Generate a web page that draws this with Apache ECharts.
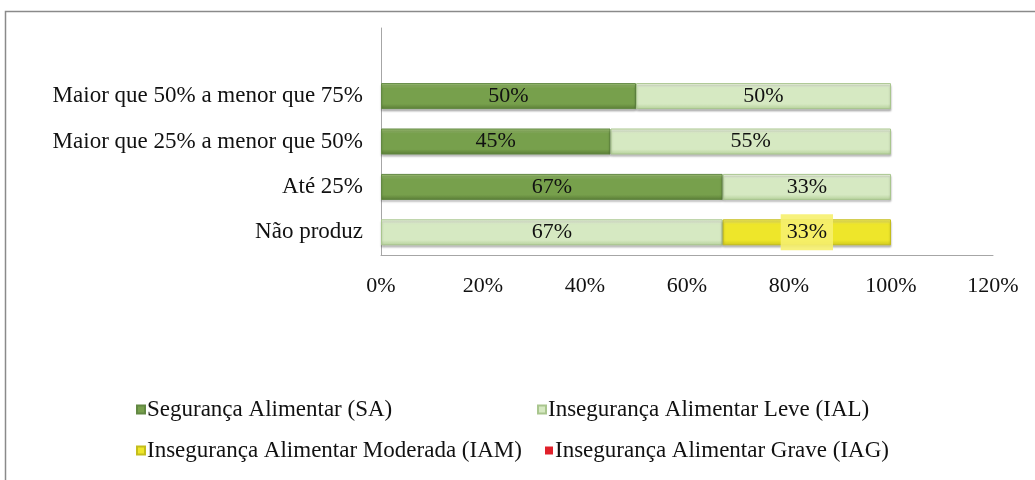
<!DOCTYPE html>
<html>
<head>
<meta charset="utf-8">
<script src="https://cdn.jsdelivr.net/npm/echarts@6/dist/echarts.min.js"></script>
<style>
  html, body { margin: 0; padding: 0; background: #fff; }
  #chart { width: 1035px; height: 480px; }
</style>
</head>
<body>
<div id="chart"></div>
<script>
// categories from bottom to top; top row is an empty slot
const categories = ['Não produz', 'Até 25%', 'Maior que 25% a menor que 50%', 'Maior que 50% a menor que 75%', '']
const sa = [null, 67, 45, 50, null]
const ial = [67, 33, 55, 50, null]
const iam = [33, null, null, null, null]
const iag = [null, null, null, null, null]
const xTicks = [0, 20, 40, 60, 80, 100, 120]

const font = 'Liberation Serif'

function bevel (top, mid, bottom) {
    return new echarts.graphic.LinearGradient(0, 0, 0, 1, [
        { offset: 0, color: top },
        { offset: 0.2, color: mid },
        { offset: 0.8, color: mid },
        { offset: 1, color: bottom }
    ])
}

const barLabel = {
    show: true,
    position: 'inside',
    fontFamily: font,
    fontSize: 22,
    color: '#111',
    formatter: p => p.value + '%'
}

const myChart = echarts.init(document.getElementById('chart'))

const option = {
    animation: false,
    textStyle: { fontFamily: font },
    graphic: [
        {
            type: 'rect',
            shape: { x: 5.5, y: 11.5, width: 1200, height: 600 },
            style: { fill: 'none', stroke: '#8a8a8a', lineWidth: 1.5 }
        }
    ],
    grid: {
        left: 381,
        right: 42,
        top: 28,
        bottom: 225,
        containLabel: false
    },
    xAxis: {
        type: 'value',
        min: 0,
        max: 120,
        interval: 20,
        axisLine: { show: true, lineStyle: { color: '#a6a6a6', width: 1 } },
        axisTick: { show: false },
        splitLine: { show: false },
        axisLabel: {
            margin: 20,
            fontFamily: font,
            fontSize: 22,
            color: '#111',
            formatter: v => xTicks.includes(v) ? v + '%' : ''
        }
    },
    yAxis: {
        type: 'category',
        data: categories,
        axisLine: { show: true, lineStyle: { color: '#a6a6a6', width: 1 } },
        axisTick: { show: false },
        axisLabel: {
            margin: 18,
            fontFamily: font,
            fontSize: 23,
            color: '#111'
        }
    },
    legend: [
        { data: ['Segurança Alimentar (SA)'], left: 136, top: 398 },
        { data: ['Insegurança Alimentar Leve (IAL)'], left: 537, top: 398 },
        { data: ['Insegurança Alimentar Moderada (IAM)'], left: 136, top: 439 },
        { data: ['Insegurança Alimentar Grave (IAG)'], left: 545, top: 439 }
    ].map(l => Object.assign(l, {
        itemWidth: 8,
        itemHeight: 8,
        icon: 'rect',
        padding: 0,
        textStyle: { fontFamily: font, fontSize: 23, color: '#111', padding: [0, 0, 0, -3] }
    })),
    series: [
        {
            name: 'Segurança Alimentar (SA)',
            type: 'bar',
            stack: 'total',
            barWidth: 26,
            data: sa,
            itemStyle: {
                color: bevel('#a5c87c', '#77a04c', '#5a7c36'),
                borderColor: '#628843',
                borderWidth: 1,
                shadowColor: 'rgba(0,0,0,0.25)',
                shadowOffsetY: 2,
                shadowBlur: 2
            },
            label: barLabel
        },
        {
            name: 'Insegurança Alimentar Leve (IAL)',
            type: 'bar',
            stack: 'total',
            data: ial,
            itemStyle: {
                color: bevel('#f1f8e8', '#d6e9c2', '#b5d09a'),
                borderColor: '#a9c68e',
                borderWidth: 1,
                shadowColor: 'rgba(0,0,0,0.25)',
                shadowOffsetY: 2,
                shadowBlur: 2
            },
            label: barLabel
        },
        {
            name: 'Insegurança Alimentar Moderada (IAM)',
            type: 'bar',
            stack: 'total',
            data: iam,
            itemStyle: {
                color: bevel('#f6f170', '#eee62a', '#cfc81e'),
                borderColor: '#c4bd1c',
                borderWidth: 1,
                shadowColor: 'rgba(0,0,0,0.25)',
                shadowOffsetY: 2,
                shadowBlur: 2
            },
            label: Object.assign({}, barLabel, {
                backgroundColor: 'rgba(246,240,110,0.9)',
                padding: [8, 6, 6, 6]
            })
        },
        {
            name: 'Insegurança Alimentar Grave (IAG)',
            type: 'bar',
            stack: 'total',
            data: iag,
            itemStyle: { color: '#e0202a' },
            label: barLabel
        }
    ]
}

myChart.setOption(option)
</script>
</body>
</html>
